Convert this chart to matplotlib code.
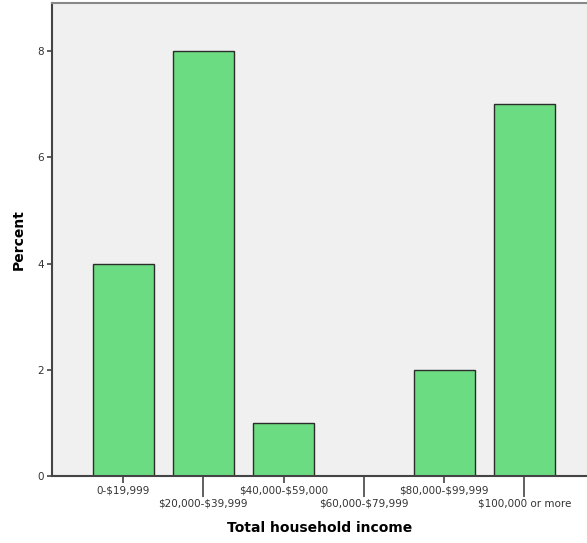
import matplotlib.pyplot as plt
import numpy as np

plt.rcParams["text.parse_math"] = False

categories = ["0-$19,999", "$20,000-$39,999", "$40,000-$59,000",
              "$60,000-$79,999", "$80,000-$99,999", "$100,000 or more"]
percent = [4, 8, 1, 0, 2, 7]

fig = plt.figure(figsize=(5.87, 5.43), dpi=100)
ax = fig.add_axes([0.0886, 0.1234, 0.9114, 0.8711])
ax.set_facecolor("#f0f0f0")

x = np.arange(len(categories))
ax.bar(x, percent, width=0.76, color="#6cdc82", edgecolor="#2b2b2b", linewidth=1.0, zorder=2)

ax.set_xlim(-0.885, 5.78)
ax.set_ylim(0, 8.91)
ax.set_yticks([0, 2, 4, 6, 8])
ax.tick_params(axis="y", length=3.8, width=1.2, color="#444444", labelsize=7.5,
               labelcolor="#333333", pad=2)

# staggered labels: even ones short tick, odd ones long tick
ax.set_xticks(x[::2])
ax.set_xticklabels(categories[::2])
ax.set_xticks(x[1::2], minor=True)
ax.set_xticklabels(categories[1::2], minor=True)
ax.tick_params(axis="x", which="major", length=5, width=1.2, color="#444444",
               labelsize=7.5, labelcolor="#333333", pad=1.5)
ax.tick_params(axis="x", which="minor", length=15, width=1.2, color="#444444",
               labelsize=7.5, labelcolor="#333333", pad=1.5)

for s in ["left", "bottom"]:
    ax.spines[s].set_color("#444444")
    ax.spines[s].set_linewidth(1.5)
ax.spines["top"].set_color("#888888")
ax.spines["top"].set_linewidth(1.5)
ax.spines["right"].set_visible(False)

ax.set_ylabel("Percent", fontsize=10, fontweight="bold", labelpad=8)
ax.set_xlabel("Total household income", fontsize=10, fontweight="bold", labelpad=9)

fig.savefig("out.png", dpi=100)
